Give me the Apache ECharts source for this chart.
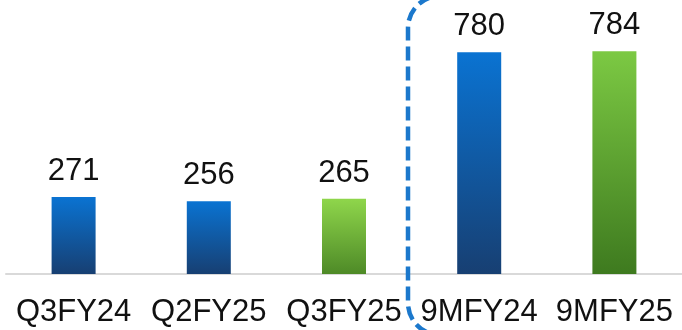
<!DOCTYPE html>
<html>
<head>
<meta charset="utf-8">
<style>
  html, body { margin: 0; padding: 0; background: #ffffff; }
  #chart { width: 682px; height: 330px; }
</style>
<script src="https://cdn.jsdelivr.net/npm/echarts@6/dist/echarts.min.js"></script>
</head>
<body>
<div id="chart"></div>
<script>
// Periods shown on the x axis
const categories = ['Q3FY24', 'Q2FY25', 'Q3FY25', '9MFY24', '9MFY25'];
// Values per period
const values = [271, 256, 265, 780, 784];
// Which bars are the current-year ones (green) vs comparison (blue)
const isCurrent = [false, false, true, false, true];

function grad(top, bottom) {
  return new echarts.graphic.LinearGradient(0, 0, 0, 1, [
    { offset: 0, color: top },
    { offset: 1, color: bottom }
  ]);
}

const blue = grad('#0a73d2', '#173f72');
const greenShort = grad('#8fd64b', '#4e8a27');
const greenTall = grad('#7cc943', '#3e7a1f');

const seriesData = values.map((v, i) => ({
  value: v,
  itemStyle: { color: isCurrent[i] ? (v > 500 ? greenTall : greenShort) : blue }
}));

const chart = echarts.init(document.getElementById('chart'));
chart.setOption({
  animation: false,
  grid: { left: 6, right: -1, top: 0, bottom: 56 },
  xAxis: {
    type: 'category',
    data: categories,
    axisLine: { show: true, lineStyle: { color: '#d9d9d9', width: 2 } },
    axisTick: { show: false },
    axisLabel: {
      interval: 0,
      hideOverlap: false,
      margin: 23,
      color: '#111111',
      fontFamily: 'Liberation Sans, Arial, sans-serif',
      fontSize: 31
    }
  },
  yAxis: {
    type: 'value',
    min: 0,
    max: 964,
    show: false,
    splitLine: { show: false }
  },
  series: [{
    type: 'bar',
    data: seriesData,
    barWidth: 44,
    label: {
      show: true,
      position: 'top',
      distance: 10,
      color: '#111111',
      fontFamily: 'Liberation Sans, Arial, sans-serif',
      fontSize: 31
    }
  }],
  graphic: [{
    type: 'rect',
    silent: true,
    z: 10,
    shape: { x: 408, y: -4, width: 320, height: 339, r: 32 },
    style: {
      fill: 'none',
      stroke: '#1b78cc',
      lineWidth: 4.5,
      lineDash: [14, 6]
    }
  }]
});
</script>
</body>
</html>
